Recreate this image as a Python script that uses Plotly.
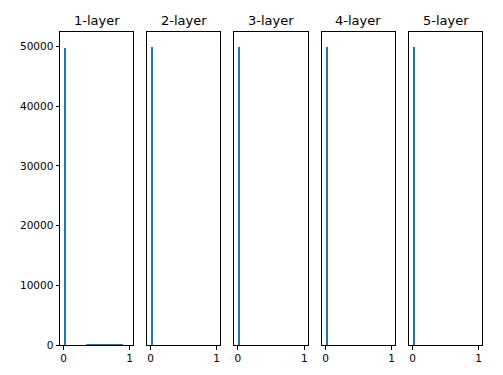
import plotly.graph_objects as go

W, H = 503, 375
n_bins = 30
bin_edges = [i / n_bins for i in range(n_bins + 1)]
bin_centers = [(bin_edges[i] + bin_edges[i + 1]) / 2 for i in range(n_bins)]

titles = ["1-layer", "2-layer", "3-layer", "4-layer", "5-layer"]

counts_1 = [49800, 0, 0, 0, 0, 0, 0, 0, 0, 0, 90, 95, 100, 100, 100, 100, 100, 100, 100, 100, 100, 100, 100, 100, 100, 95, 90, 0, 0, 0]
counts_2 = [49990] + [0] * 29
counts_3 = [49990] + [0] * 29
counts_4 = [49990] + [0] * 29
counts_5 = [49990] + [0] * 29
all_counts = [counts_1, counts_2, counts_3, counts_4, counts_5]

x_ticks = [0, 1]
y_ticks = [0, 10000, 20000, 30000, 40000, 50000]

lefts = [60, 147, 234.3, 322, 409]
rights = [133, 220, 307.7, 395, 482]
top_px, bottom_px = 31.7, 345

fig = go.Figure()
color = "#1f77b4"
for i, counts in enumerate(all_counts):
    xa = "x" if i == 0 else f"x{i+1}"
    ya = "y" if i == 0 else f"y{i+1}"
    fig.add_trace(go.Bar(x=bin_centers, y=counts, width=1 / n_bins,
                         marker=dict(color=color, line=dict(width=0)),
                         xaxis=xa, yaxis=ya, showlegend=False))
    dom_x = [lefts[i] / W, rights[i] / W]
    dom_y = [1 - bottom_px / H, 1 - top_px / H]
    axis_common = dict(showline=True, linecolor="black", linewidth=1, mirror=True,
                       showgrid=False, zeroline=False, ticklen=3.5, automargin=False,
                       tickwidth=1, tickcolor="black",
                       tickfont=dict(family="DejaVu Sans", size=10.5, color="black"))
    xkey = "xaxis" if i == 0 else f"xaxis{i+1}"
    ykey = "yaxis" if i == 0 else f"yaxis{i+1}"
    fig.update_layout(**{
        xkey: dict(domain=dom_x, range=[-0.055, 1.05], tickmode="array",
                   tickvals=x_ticks, ticktext=[str(t) for t in x_ticks],
                   anchor=ya, ticks="outside", **axis_common),
        ykey: dict(domain=dom_y, range=[0, 52500], anchor=xa,
                   tickmode="array", tickvals=y_ticks if i == 0 else [],
                   ticktext=[str(t) for t in y_ticks] if i == 0 else [],
                   ticks="outside" if i == 0 else "", **axis_common),
    })
    fig.add_annotation(text=titles[i], x=(dom_x[0] + dom_x[1]) / 2, y=1 - 20.5 / H,
                       xref="paper", yref="paper", showarrow=False,
                       xanchor="center", yanchor="middle",
                       font=dict(family="DejaVu Sans", size=13, color="black"))

fig.update_layout(width=W, height=H, margin=dict(l=0, r=0, t=0, b=0, autoexpand=False),
                  autosize=False,
                  paper_bgcolor="white", plot_bgcolor="white", bargap=0)
fig.write_html("out.html")
